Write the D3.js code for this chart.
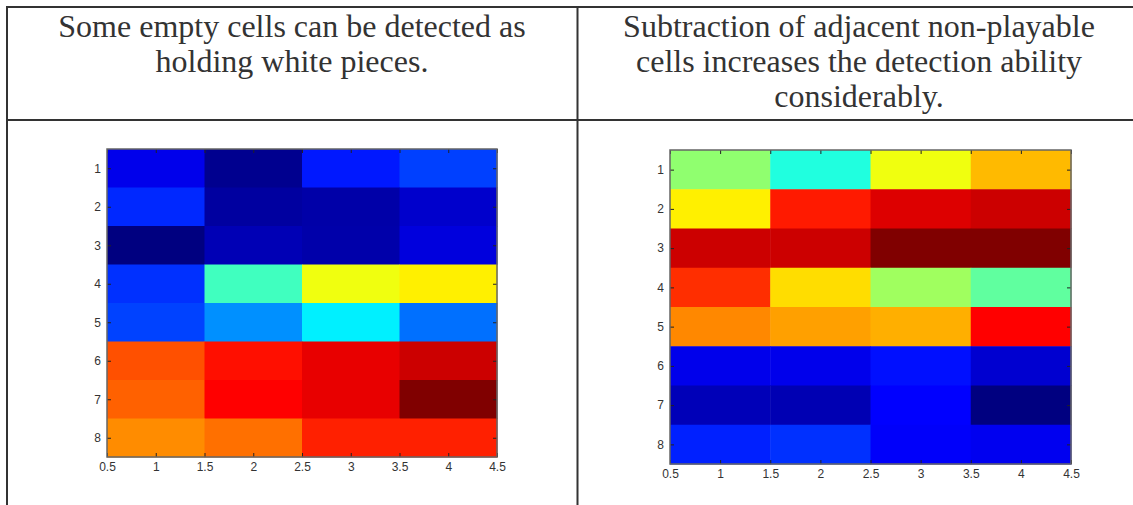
<!DOCTYPE html>
<html>
<head>
<meta charset="utf-8">
<script src="https://cdn.jsdelivr.net/npm/d3@7"></script>
<style>
  body { margin: 0; background: #fff; }
  svg { display: block; }
</style>
</head>
<body>
<svg id="chart" width="1133" height="505"></svg>
<script>
// column captions
var leftCaption = ["Some empty cells can be detected as", "holding white pieces."];
var rightCaption = ["Subtraction of adjacent non-playable", "cells increases the detection ability", "considerably."];

// tick labels
var xTicks = [0.5, 1, 1.5, 2, 2.5, 3, 3.5, 4, 4.5];
var yTicks = [1, 2, 3, 4, 5, 6, 7, 8];

// heat values, rows 1..8, columns 1..4
var leftValues = [
	[0.105, 0.015, 0.149, 0.188],
	[0.164, 0.032, 0.040, 0.075],
	[0.000, 0.052, 0.042, 0.092],
	[0.172, 0.438, 0.610, 0.640],
	[0.190, 0.266, 0.360, 0.235],
	[0.797, 0.860, 0.898, 0.925],
	[0.780, 0.875, 0.898, 1.000],
	[0.738, 0.765, 0.844, 0.844]
];
var rightValues = [
	[0.516, 0.406, 0.610, 0.693],
	[0.640, 0.850, 0.908, 0.925],
	[0.925, 0.925, 1.000, 1.000],
	[0.830, 0.658, 0.532, 0.469],
	[0.742, 0.718, 0.703, 0.875],
	[0.105, 0.105, 0.140, 0.079],
	[0.055, 0.050, 0.125, 0.000],
	[0.156, 0.172, 0.120, 0.110]
];

var svg = d3.select("#chart");
var lineColor = "#333";

// matlab jet colormap
function jet(t) {
	function c(v) { return Math.max(0, Math.min(1, v)); }
	var r = c(1.5 - Math.abs(4 * t - 3)),
		g = c(1.5 - Math.abs(4 * t - 2)),
		b = c(1.5 - Math.abs(4 * t - 1));
	return d3.rgb(r * 255, g * 255, b * 255).toString();
}

// table lines
var table = svg.append("g").attr("stroke", lineColor).attr("stroke-width", 2);
table.append("line").attr("x1", 6).attr("x2", 1133).attr("y1", 7).attr("y2", 7);
table.append("line").attr("x1", 6).attr("x2", 1133).attr("y1", 120).attr("y2", 120);
table.append("line").attr("x1", 7).attr("x2", 7).attr("y1", 6).attr("y2", 505);
table.append("line").attr("x1", 577.5).attr("x2", 577.5).attr("y1", 6).attr("y2", 505);

function caption(lines, cx) {
	svg.append("g").selectAll("text")
		.data(lines)
		.enter().append("text")
		.attr("x", cx)
		.attr("y", function (d, i) { return 37 + i * 35; })
		.attr("text-anchor", "middle")
		.attr("font-family", "'Liberation Serif', 'Times New Roman', serif")
		.attr("font-size", 32)
		.attr("fill", "#333")
		.text(function (d) { return d; });
}
caption(leftCaption, 292);
caption(rightCaption, 859);

function heatmap(values, box) {
	var x = d3.scaleLinear().domain([0.5, 4.5]).range([box.x0, box.x1]);
	var y = d3.scaleLinear().domain([0.5, 8.5]).range([box.y0, box.y1]);
	var flat = [].concat.apply([], values);
	var color = d3.scaleLinear().domain([d3.min(flat), d3.max(flat)]).range([0, 1]);

	var g = svg.append("g");
	var cells = [];
	values.forEach(function (row, r) {
		row.forEach(function (v, c) { cells.push({ row: r + 1, col: c + 1, v: v }); });
	});

	g.selectAll("rect.cell")
		.data(cells)
		.enter().append("rect")
		.attr("class", "cell")
		.attr("x", function (d) { return x(d.col - 0.5); })
		.attr("y", function (d) { return y(d.row - 0.5); })
		.attr("width", function (d) { return x(d.col + 0.5) - x(d.col - 0.5) + 0.5; })
		.attr("height", function (d) { return y(d.row + 0.5) - y(d.row - 0.5) + 0.5; })
		.attr("fill", function (d) { return jet(color(d.v)); });

	var fmt = function (d) { return String(d); };
	var font = "'Liberation Sans', Arial, sans-serif";

	var bottom = g.append("g")
		.attr("transform", "translate(0," + box.y1 + ")")
		.call(d3.axisBottom(x).tickValues(xTicks).tickFormat(fmt).tickSizeInner(-4).tickSizeOuter(0).tickPadding(5));
	var left = g.append("g")
		.attr("transform", "translate(" + box.x0 + ",0)")
		.call(d3.axisLeft(y).tickValues(yTicks).tickFormat(fmt).tickSizeInner(-4).tickSizeOuter(0).tickPadding(6));
	var top = g.append("g")
		.attr("transform", "translate(0," + box.y0 + ")")
		.call(d3.axisTop(x).tickValues(xTicks).tickFormat("").tickSizeInner(-4).tickSizeOuter(0));
	var right = g.append("g")
		.attr("transform", "translate(" + box.x1 + ",0)")
		.call(d3.axisRight(y).tickValues(yTicks).tickFormat("").tickSizeInner(-4).tickSizeOuter(0));

	[bottom, left, top, right].forEach(function (a) {
		a.select(".domain").remove();
		a.selectAll(".tick line").attr("stroke", "#222");
		a.selectAll("text")
			.attr("font-family", font)
			.attr("font-size", 12)
			.attr("fill", "#333");
	});

	g.append("rect")
		.attr("x", box.x0).attr("y", box.y0)
		.attr("width", box.x1 - box.x0).attr("height", box.y1 - box.y0)
		.attr("fill", "none")
		.attr("stroke", "#666")
		.attr("stroke-width", 1.5);
}

heatmap(leftValues, { x0: 107, x1: 497, y0: 149, y1: 457 });
heatmap(rightValues, { x0: 670, x1: 1071, y0: 150, y1: 464 });
</script>
</body>
</html>
